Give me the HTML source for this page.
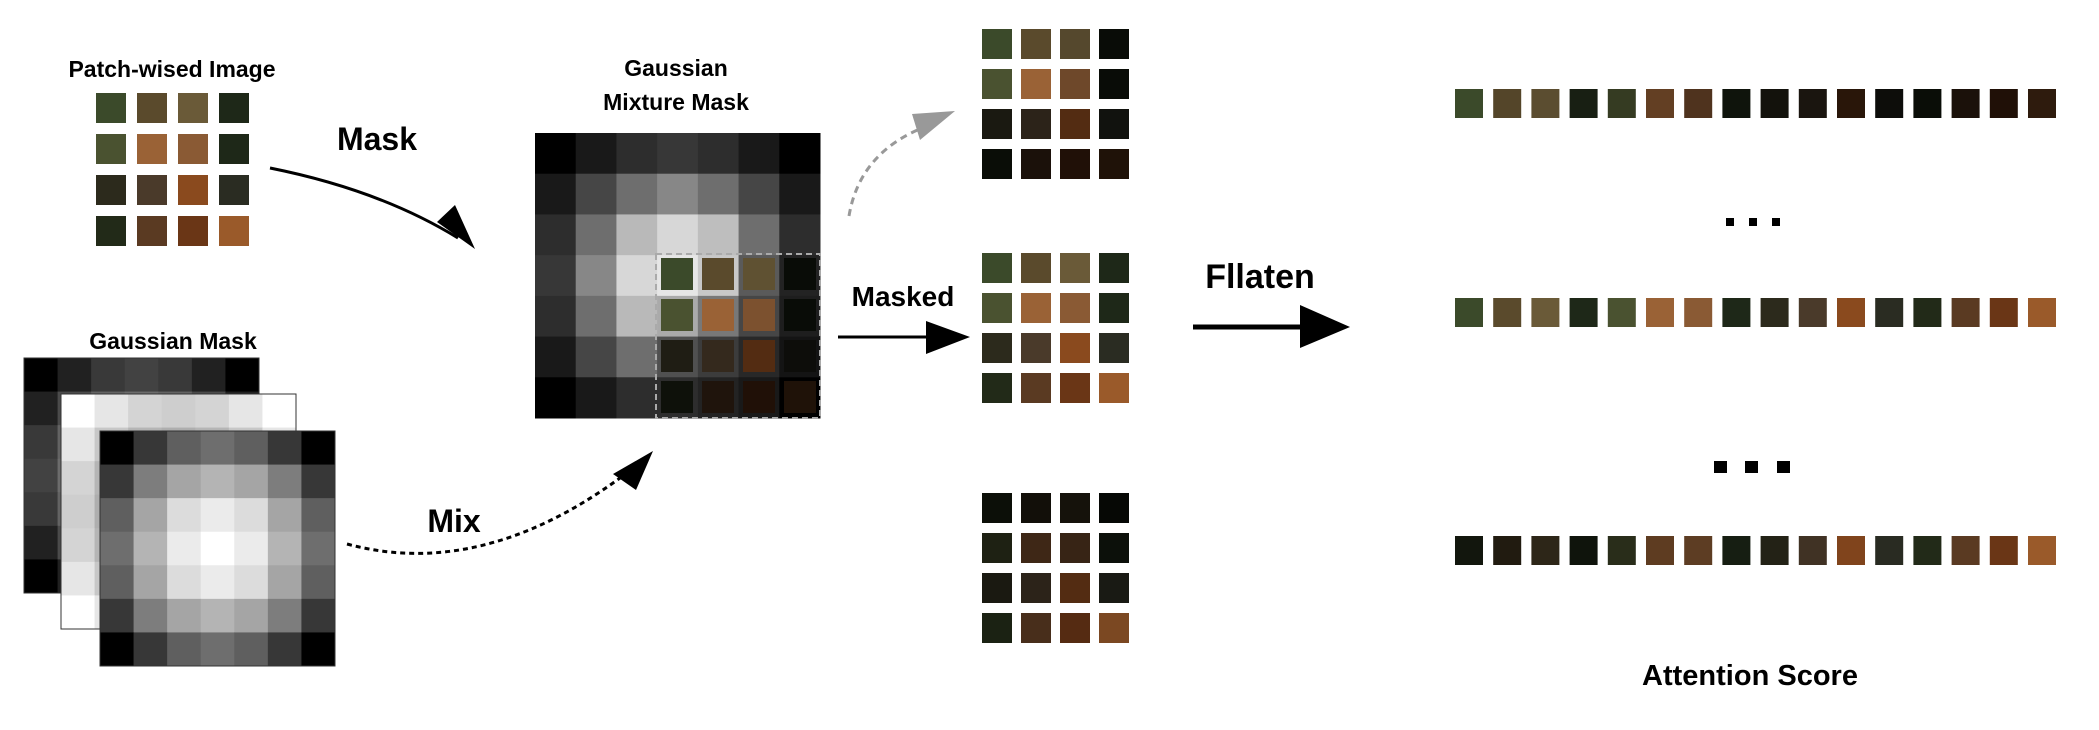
<!DOCTYPE html>
<html><head><meta charset="utf-8"><style>
body{margin:0;background:#fff;width:2099px;height:730px;overflow:hidden;font-family:"Liberation Sans",sans-serif}
svg{display:block}
text{font-family:"Liberation Sans",sans-serif;font-weight:bold;fill:#000}
</style></head><body>
<svg id="c" width="2099" height="730">
<defs>
<marker id="ah" markerWidth="10" markerHeight="10" refX="8" refY="5" orient="auto" markerUnits="userSpaceOnUse" viewBox="0 0 10 10"><path d="M0,0L10,5L0,10z" fill="#000"/></marker>
</defs>
<text x="172" y="77" font-size="23" text-anchor="middle">Patch-wised Image</text>
<text x="377" y="150" font-size="32" text-anchor="middle">Mask</text>
<text x="676" y="76" font-size="23" text-anchor="middle">Gaussian</text>
<text x="676" y="110" font-size="23" text-anchor="middle">Mixture Mask</text>
<text x="173" y="349" font-size="23" text-anchor="middle">Gaussian Mask</text>
<text x="454" y="532" font-size="32" text-anchor="middle">Mix</text>
<text x="903" y="306" font-size="28" text-anchor="middle">Masked</text>
<text x="1260" y="288" font-size="34" text-anchor="middle">Fllaten</text>
<text x="1750" y="685" font-size="29" text-anchor="middle">Attention Score</text>
<g id="g"></g>
</svg>
<script>
const NS="http://www.w3.org/2000/svg";
const G=document.getElementById('g');
function el(t,a){const e=document.createElementNS(NS,t);for(const k in a)e.setAttribute(k,a[k]);G.appendChild(e);return e;}
// fox patch colours (4x4)
const fox=[["#3b4a2a","#5a4a2c","#6a5a38","#1e2818"],["#4a5230","#9a6236","#8a5a34","#1e2818"],["#2c2a1c","#4a3a2a","#8a4a1e","#2a2c22"],["#222a18","#5a3a22","#6a3616","#9a5a2a"]];
const g3=[[0,55,95,110,95,55,0],[55,125,165,180,165,125,55],[95,165,220,235,220,165,95],[110,180,235,255,235,180,110],[95,165,220,235,220,165,95],[55,125,165,180,165,125,55],[0,55,95,110,95,55,0]];
const gmm=[[0,25,45,55,45,25,0],[25,70,110,135,110,70,25],[45,110,185,215,190,110,45],[55,135,215,230,200,90,35],[45,110,185,170,120,70,30],[25,70,110,80,60,40,20],[0,25,45,45,35,25,0]];
function gray(v){return `rgb(${v},${v},${v})`;}
function grid(x0,y0,px,py,w,h,cols,name){
  for(let r=0;r<4;r++)for(let c=0;c<4;c++){
    const e=el('rect',{x:x0+c*px,y:y0+r*py,width:w,height:h,fill:cols(r,c)});
    
    
  }
}
grid(96,93,41,41,30,30,(r,c)=>fox[r][c],'input');
// gaussian mask stack
[[24,358,0.6,false],[61,394,1,true],[100,431,1,false]].forEach(([x,y,k,inv],i)=>{
  const s=235/7;
  for(let r=0;r<7;r++)for(let c=0;c<7;c++){
    let v=Math.round(g3[r][c]*k); if(inv) v=Math.min(255,Math.round(255-g3[r][c]*0.45));
    const e=el('rect',{x:x+c*s,y:y+r*s,width:s+0.5,height:s+0.5,fill:gray(v)});
    
    
  }
  el('rect',{x:x,y:y,width:235,height:235,fill:'none',stroke:'#333','stroke-width':1});
});
// gmm
const s=285/7;
for(let r=0;r<7;r++)for(let c=0;c<7;c++){
  const e=el('rect',{x:535+c*s,y:133+r*s,width:s+0.5,height:s+0.5,fill:gray(gmm[r][c])});
  
  
}
grid(661,258,41,41,32,32,(r,c)=>{const d=[[1,1,0.9,0.3],[1,1,0.9,0.3],[0.7,0.7,0.6,0.3],[0.4,0.35,0.3,0.2]][r][c];const m=fox[r][c].match(/\w\w/g).map(h=>Math.round(parseInt(h,16)*d));return `rgb(${m})`;},'masked-overlay');
el('rect',{x:656,y:254,width:164,height:164,fill:'none',stroke:'#aaa','stroke-width':2,'stroke-dasharray':'6,4'});
// right grids
const dim=[[1,1,0.8,0.3],[1,1,0.8,0.3],[0.6,0.6,0.6,0.4],[0.3,0.3,0.3,0.2]];
grid(982,29,39,40,30,30,(r,c)=>{const m=fox[r][c].match(/\w\w/g).map(h=>Math.round(parseInt(h,16)*dim[r][c]));return `rgb(${m})`;},'out-top');
grid(982,253,39,40,30,30,(r,c)=>fox[r][c],'out-mid');
grid(982,493,39,40,30,30,(r,c)=>{const m=fox[r][c].match(/\w\w/g).map(h=>Math.round(parseInt(h,16)*(0.2+0.2*r)));return `rgb(${m})`;},'out-bottom');
// flattened rows
const flat=fox.flat();
[[89,1],[298,0.9],[536,0.5]].forEach(([y,k],ri)=>{
  for(let i=0;i<16;i++){
    const m=flat[i].match(/\w\w/g).map(h=>Math.round(parseInt(h,16)*(ri==0?Math.max(0.3,1-i/14):ri==2?Math.min(1,0.3+i/16):1)));
    const e=el('rect',{x:1455+i*38.2,y:y,width:28,height:29,fill:`rgb(${m})`});
    
    
  }
});
// dots
[1726,1749,1772].forEach(x=>el('rect',{x:x,y:218,width:8,height:8,fill:'#000'}));
[1714,1745,1777].forEach(x=>el('rect',{x:x,y:461,width:13,height:12,fill:'#000'}));
// arrows
el('path',{d:'M270,168 Q380,190 458,238',fill:'none',stroke:'#000','stroke-width':3});
el('path',{d:'M437,222 L475,249 L455,205 z',fill:'#000'});
el('path',{d:'M347,544 Q480,580 620,478',fill:'none',stroke:'#000','stroke-width':3,'stroke-dasharray':'5,4'});
el('path',{d:'M613,474 L653,451 L636,490 z',fill:'#000'});
el('path',{d:'M849,216 Q860,150 930,125',fill:'none',stroke:'#999','stroke-width':3,'stroke-dasharray':'7,5'});
el('path',{d:'M912,114 L955,111 L920,140 z',fill:'#999'});
el('line',{x1:838,y1:337,x2:930,y2:337,stroke:'#000','stroke-width':3});
el('path',{d:'M926,321 L970,337 L926,354 z',fill:'#000'});
el('line',{x1:1193,y1:327,x2:1305,y2:327,stroke:'#000','stroke-width':5});
el('path',{d:'M1300,305 L1350,327 L1300,348 z',fill:'#000'});
</script>
</body></html>
